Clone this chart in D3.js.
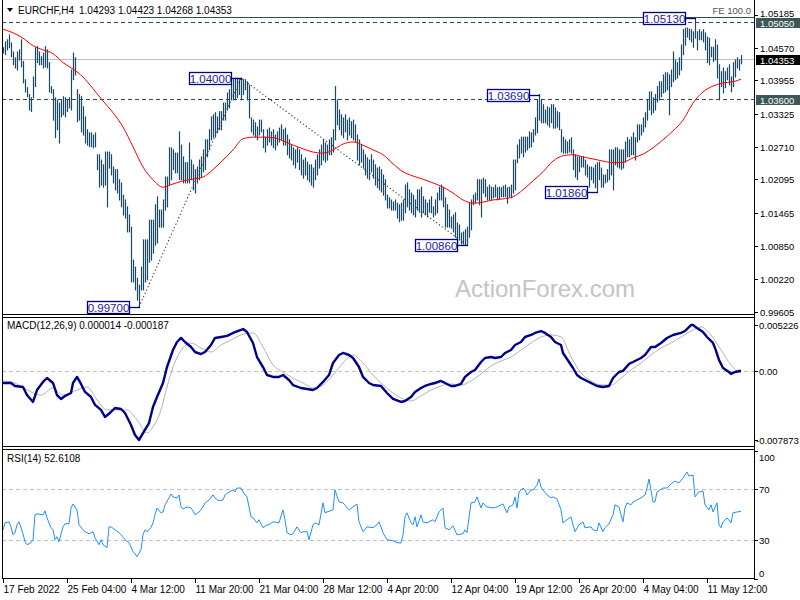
<!DOCTYPE html>
<html><head><meta charset="utf-8">
<script src="https://cdn.jsdelivr.net/npm/d3@7/dist/d3.min.js"></script>
<style>html,body{margin:0;padding:0;background:#fff;} svg{display:block;font-family:"Liberation Sans",Arial,sans-serif;}</style>
</head><body><div id="chart"></div>
<script>
// ---------------- DATA ----------------
const symbolTitle = "EURCHF,H4";
const ohlcTitle = "1.04293 1.04423 1.04268 1.04353";
const macdTitle = "MACD(12,26,9) 0.000014 -0.000187";
const rsiTitle = "RSI(14) 52.6108";
const watermark = "ActionForex.com";

// H4 bar highs / lows (bar 0 = 17 Feb 2022)
const barHigh = [
1.0457,1.0468,1.0472,1.0481,1.0466,1.0449,1.0438,1.0449,1.0453,1.0472,
1.0431,1.0397,1.0382,1.0369,1.0363,1.0402,1.0457,1.0459,1.0449,1.0440,
1.0447,1.0459,1.0453,1.0429,1.0384,1.0378,1.0363,1.0359,1.0353,1.0359,
1.0365,1.0363,1.0359,1.0363,1.0415,1.0447,1.0438,1.0378,1.0369,1.0365,
1.0346,1.0327,1.0303,1.0297,1.0297,1.0293,1.0297,1.0256,1.0256,1.0246,
1.0237,1.0261,1.0261,1.0261,1.0256,1.0233,1.0228,1.0228,1.0209,1.0203,
1.0180,1.0171,1.0158,1.0143,1.0120,1.0058,1.0045,1.0024,1.0011,1.0045,
1.0096,1.0096,1.0096,1.0133,1.0133,1.0133,1.0162,1.0177,1.0152,1.0152,
1.0171,1.0214,1.0214,1.0269,1.0269,1.0265,1.0259,1.0259,1.0299,1.0274,
1.0252,1.0241,1.0241,1.0278,1.0246,1.0237,1.0228,1.0233,1.0246,1.0252,
1.0265,1.0284,1.0284,1.0303,1.0327,1.0331,1.0335,1.0327,1.0337,1.0337,
1.0353,1.0353,1.0372,1.0378,1.0387,1.0397,1.0400,1.0400,1.0397,1.0400,
1.0397,1.0397,1.0393,1.0387,1.0325,1.0321,1.0316,1.0308,1.0321,1.0321,
1.0303,1.0289,1.0303,1.0306,1.0299,1.0303,1.0293,1.0299,1.0306,1.0312,
1.0303,1.0306,1.0293,1.0284,1.0274,1.0269,1.0265,1.0269,1.0265,1.0256,
1.0246,1.0250,1.0242,1.0237,1.0237,1.0231,1.0246,1.0256,1.0265,1.0274,
1.0284,1.0278,1.0274,1.0284,1.0288,1.0303,1.0384,1.0359,1.0340,1.0331,
1.0325,1.0331,1.0321,1.0325,1.0318,1.0321,1.0312,1.0293,1.0284,1.0274,
1.0265,1.0256,1.0250,1.0246,1.0256,1.0246,1.0237,1.0231,1.0233,1.0228,
1.0218,1.0209,1.0180,1.0175,1.0171,1.0167,1.0171,1.0165,1.0162,1.0165,
1.0171,1.0199,1.0203,1.0190,1.0184,1.0180,1.0171,1.0190,1.0190,1.0195,
1.0177,1.0171,1.0165,1.0171,1.0177,1.0158,1.0171,1.0184,1.0195,1.0199,
1.0195,1.0175,1.0162,1.0152,1.0139,1.0143,1.0147,1.0128,1.0124,1.0109,
1.0111,1.0115,1.0120,1.0165,1.0171,1.0180,1.0184,1.0209,1.0209,1.0209,
1.0212,1.0209,1.0195,1.0199,1.0195,1.0194,1.0199,1.0194,1.0195,1.0194,
1.0197,1.0199,1.0194,1.0195,1.0199,1.0246,1.0246,1.0274,1.0284,1.0289,
1.0289,1.0289,1.0289,1.0299,1.0297,1.0303,1.0325,1.0359,1.0369,1.0359,
1.0350,1.0340,1.0346,1.0344,1.0350,1.0350,1.0344,1.0337,1.0335,1.0303,
1.0289,1.0284,1.0280,1.0284,1.0288,1.0265,1.0256,1.0252,1.0252,1.0252,
1.0252,1.0246,1.0237,1.0233,1.0233,1.0231,1.0237,1.0241,1.0242,1.0231,
1.0218,1.0218,1.0228,1.0265,1.0265,1.0265,1.0269,1.0269,1.0265,1.0265,
1.0265,1.0280,1.0288,1.0284,1.0289,1.0297,1.0288,1.0312,1.0312,1.0312,
1.0325,1.0335,1.0359,1.0374,1.0374,1.0363,1.0369,1.0384,1.0393,1.0393,
1.0406,1.0410,1.0410,1.0406,1.0415,1.0449,1.0434,1.0429,1.0438,1.0462,
1.0491,1.0494,1.0494,1.0492,1.0491,1.0487,1.0513,1.0487,1.0491,1.0487,
1.0491,1.0485,1.0477,1.0475,1.0458,1.0458,1.0472,1.0462,1.0425,1.0412,
1.0419,1.0412,1.0419,1.0425,1.0402,1.0429,1.0434,1.0438,1.0434,1.04423];
const barLow = [
1.0447,1.0444,1.0453,1.0457,1.0440,1.0425,1.0419,1.0415,1.0434,1.0421,
1.0391,1.0374,1.0365,1.0340,1.0337,1.0363,1.0384,1.0429,1.0425,1.0425,
1.0419,1.0421,1.0419,1.0374,1.0372,1.0321,1.0288,1.0303,1.0278,1.0327,
1.0331,1.0327,1.0337,1.0344,1.0340,1.0397,1.0406,1.0318,1.0321,1.0299,
1.0293,1.0278,1.0274,1.0271,1.0271,1.0269,1.0271,1.0228,1.0195,1.0199,
1.0195,1.0199,1.0158,1.0231,1.0218,1.0203,1.0190,1.0184,1.0171,1.0158,
1.0143,1.0137,1.0111,1.0111,1.0017,1.0017,1.0002,0.9983,0.9970,1.0002,
1.0002,1.0017,1.0021,1.0054,1.0058,1.0071,1.0086,1.0090,1.0120,1.0120,
1.0120,1.0152,1.0158,1.0199,1.0209,1.0228,1.0222,1.0222,1.0209,1.0209,
1.0203,1.0203,1.0203,1.0203,1.0209,1.0190,1.0184,1.0203,1.0209,1.0214,
1.0224,1.0228,1.0252,1.0265,1.0284,1.0289,1.0289,1.0297,1.0303,1.0303,
1.0321,1.0321,1.0340,1.0344,1.0359,1.0359,1.0359,1.0363,1.0369,1.0359,
1.0369,1.0378,1.0359,1.0325,1.0299,1.0293,1.0289,1.0284,1.0293,1.0299,
1.0269,1.0261,1.0274,1.0280,1.0274,1.0269,1.0265,1.0274,1.0280,1.0284,
1.0274,1.0274,1.0256,1.0250,1.0246,1.0237,1.0231,1.0242,1.0228,1.0218,
1.0212,1.0218,1.0209,1.0205,1.0199,1.0195,1.0209,1.0218,1.0231,1.0237,
1.0246,1.0242,1.0246,1.0256,1.0256,1.0261,1.0284,1.0312,1.0303,1.0293,
1.0288,1.0299,1.0284,1.0293,1.0288,1.0284,1.0280,1.0246,1.0237,1.0242,
1.0231,1.0218,1.0212,1.0209,1.0224,1.0212,1.0199,1.0194,1.0190,1.0186,
1.0180,1.0171,1.0156,1.0156,1.0152,1.0152,1.0152,1.0137,1.0130,1.0133,
1.0133,1.0147,1.0158,1.0152,1.0147,1.0143,1.0139,1.0152,1.0148,1.0139,
1.0147,1.0143,1.0139,1.0148,1.0147,1.0139,1.0143,1.0147,1.0171,1.0171,
1.0158,1.0120,1.0120,1.0120,1.0118,1.0111,1.0101,1.0090,1.0096,1.0088,
1.0088,1.0086,1.0086,1.0101,1.0115,1.0162,1.0165,1.0171,1.0162,1.0139,
1.0184,1.0177,1.0171,1.0171,1.0171,1.0175,1.0177,1.0171,1.0173,1.0177,
1.0177,1.0177,1.0165,1.0177,1.0175,1.0184,1.0190,1.0241,1.0250,1.0259,
1.0252,1.0261,1.0265,1.0269,1.0271,1.0280,1.0293,1.0297,1.0321,1.0316,
1.0316,1.0316,1.0312,1.0308,1.0316,1.0306,1.0306,1.0308,1.0303,1.0261,
1.0259,1.0259,1.0259,1.0261,1.0259,1.0228,1.0214,1.0209,1.0224,1.0233,
1.0233,1.0218,1.0214,1.0195,1.0209,1.0203,1.0194,1.0186,1.0209,1.0195,
1.0195,1.0203,1.0205,1.0209,1.0218,1.0190,1.0237,1.0233,1.0231,1.0228,
1.0231,1.0242,1.0252,1.0252,1.0256,1.0256,1.0246,1.0280,1.0284,1.0293,
1.0299,1.0308,1.0321,1.0340,1.0331,1.0335,1.0340,1.0355,1.0359,1.0365,
1.0372,1.0374,1.0378,1.0331,1.0384,1.0393,1.0397,1.0400,1.0406,1.0415,
1.0444,1.0462,1.0477,1.0472,1.0468,1.0458,1.0475,1.0453,1.0472,1.0472,
1.0468,1.0453,1.0429,1.0425,1.0440,1.0431,1.0434,1.0400,1.0359,1.0384,
1.0372,1.0382,1.0397,1.0387,1.0374,1.0384,1.0402,1.0419,1.0415,1.04268];

// moving average [bar, price]
const maPoints = [[0,1.0492],[5,1.0485],[10,1.0475],[15,1.0461],[20,1.0453],[25,1.0446],[30,1.0429],[35,1.0417],[40,1.0402],[45,1.0380],[50,1.0357],[55,1.0335],[60,1.0308],[65,1.0271],[70,1.0233],[75,1.0209],[80,1.0195],[85,1.0201],[90,1.0207],[95,1.0210],[100,1.0214],[105,1.0228],[110,1.0246],[115,1.0265],[120,1.0286],[125,1.0289],[130,1.0289],[135,1.0288],[140,1.0282],[145,1.0274],[150,1.0267],[155,1.0261],[160,1.0259],[165,1.0265],[170,1.0276],[175,1.0280],[180,1.0274],[185,1.0265],[190,1.0256],[195,1.0239],[200,1.0224],[205,1.0216],[210,1.0210],[215,1.0203],[220,1.0195],[225,1.0184],[230,1.0171],[235,1.0165],[240,1.0167],[245,1.0171],[250,1.0173],[255,1.0177],[260,1.0190],[265,1.0207],[270,1.0224],[275,1.0244],[280,1.0254],[285,1.0256],[290,1.0252],[295,1.0248],[300,1.0244],[305,1.0241],[310,1.0242],[315,1.0250],[320,1.0257],[325,1.0269],[330,1.0284],[335,1.0301],[340,1.0321],[345,1.0353],[350,1.0374],[355,1.0385],[360,1.0391],[365,1.0393],[369,1.0398]];

// MACD main line [bar, value]
const macdPoints = [[0,-0.00138],[4,-0.00138],[6,-0.00172],[10,-0.00183],[12,-0.00275],[15,-0.00354],[17,-0.00218],[20,-0.00126],[22,-0.00081],[25,-0.00138],
[27,-0.00275],[29,-0.00320],[31,-0.00286],[34,-0.00252],[35,-0.00138],[37,-0.00069],[39,-0.00149],[41,-0.00240],[44,-0.00297],[46,-0.00388],
[49,-0.00445],[51,-0.00525],[54,-0.00468],[56,-0.00423],[59,-0.00434],[61,-0.00480],[64,-0.00616],[66,-0.00730],[68,-0.00787],[70,-0.00708],
[73,-0.00594],[75,-0.00411],[77,-0.00297],[80,-0.00138],[82,0.00044],[85,0.00238],[87,0.00329],[89,0.00375],[91,0.00329],[94,0.00272],
[96,0.00215],[99,0.00192],[101,0.00215],[104,0.00295],[106,0.00375],[109,0.00386],[112,0.00398],[115,0.00432],[119,0.00466],[120,0.00477],
[122,0.00443],[125,0.00318],[127,0.00158],[130,0.00044],[132,-0.00047],[135,-0.00069],[138,-0.00069],[140,-0.00047],[143,-0.00104],[145,-0.00161],
[149,-0.00195],[152,-0.00206],[155,-0.00218],[157,-0.00195],[160,-0.00126],[163,-0.00047],[165,0.00090],[168,0.00181],[170,0.00204],[173,0.00181],
[175,0.00147],[178,0.00044],[180,-0.00069],[183,-0.00138],[185,-0.00161],[189,-0.00172],[192,-0.00252],[195,-0.00320],[199,-0.00354],[201,-0.00343],
[204,-0.00297],[206,-0.00240],[209,-0.00195],[211,-0.00172],[214,-0.00149],[216,-0.00138],[219,-0.00115],[221,-0.00138],[224,-0.00172],[226,-0.00172],
[229,-0.00149],[231,-0.00069],[234,-0.00013],[236,0.00010],[239,0.00101],[241,0.00147],[244,0.00158],[246,0.00147],[249,0.00158],[251,0.00204],
[254,0.00238],[256,0.00295],[259,0.00329],[261,0.00386],[264,0.00409],[266,0.00432],[269,0.00454],[271,0.00432],[274,0.00386],[276,0.00329],
[279,0.00295],[280,0.00204],[283,0.00101],[285,0.00033],[287,-0.00047],[289,-0.00081],[291,-0.00104],[294,-0.00138],[297,-0.00172],[300,-0.00183],
[303,-0.00172],[305,-0.00081],[308,-0.00013],[310,0.00000],[313,0.00079],[315,0.00101],[319,0.00147],[321,0.00181],[324,0.00272],[326,0.00272],
[329,0.00318],[332,0.00375],[335,0.00409],[339,0.00432],[341,0.00454],[344,0.00522],[345,0.00522],[347,0.00489],[350,0.00443],[352,0.00386],
[355,0.00318],[356,0.00261],[358,0.00124],[360,0.00033],[363,-0.00013],[364,-0.00035],[366,-0.00013],[369,0.000014]];

// MACD signal line [bar, value]
const signalPoints = [[0,-0.00115],[4,-0.00126],[9,-0.00172],[14,-0.00240],[19,-0.00275],[25,-0.00195],[30,-0.00275],[37,-0.00218],[42,-0.00183],[47,-0.00332],
[52,-0.00445],[57,-0.00445],[62,-0.00445],[67,-0.00559],[72,-0.00708],[75,-0.00639],[79,-0.00445],[82,-0.00183],[85,0.00044],[90,0.00261],
[94,0.00318],[99,0.00261],[104,0.00215],[109,0.00295],[114,0.00352],[119,0.00409],[125,0.00432],[130,0.00272],[135,0.00067],[140,-0.00013],
[145,-0.00081],[150,-0.00138],[155,-0.00195],[160,-0.00161],[165,-0.00047],[170,0.00090],[175,0.00181],[180,0.00090],[185,-0.00047],[190,-0.00161],
[195,-0.00252],[199,-0.00309],[204,-0.00343],[209,-0.00286],[214,-0.00218],[219,-0.00172],[224,-0.00149],[229,-0.00161],[234,-0.00115],[239,-0.00035],
[244,0.00056],[249,0.00113],[254,0.00158],[259,0.00238],[264,0.00318],[269,0.00386],[274,0.00409],[279,0.00386],[284,0.00158],[289,-0.00024],
[294,-0.00115],[299,-0.00161],[304,-0.00161],[309,-0.00081],[314,0.00010],[319,0.00090],[324,0.00181],[329,0.00261],[334,0.00318],[339,0.00386],
[344,0.00454],[349,0.00500],[354,0.00409],[359,0.00238],[364,0.00067],[367,0.00000],[369,-0.000187]];

// RSI(14) [bar, value]
const rsiPoints = [[0,38.3],[1,43.7],[3,44.5],[4,40.6],[5,34.4],[6,36.0],[7,42.2],[8,44.5],[10,35.2],[11,29.0],[12,26.7],[14,28.3],[15,30.6],[16,49.9],[17,50.7],[20,49.9],[21,53.0],[22,47.6],[24,39.9],[25,38.3],[26,30.6],[27,32.9],[28,29.0],[30,40.6],[31,43.0],[33,43.0],[34,55.3],[35,58.4],[37,53.8],[38,42.2],[40,38.3],[41,36.8],[43,35.2],[45,36.8],[46,32.1],[48,26.7],[49,30.6],[50,26.7],[52,24.4],[53,40.6],[54,40.6],[56,38.3],[58,36.0],[60,32.9],[61,30.6],[63,28.3],[65,21.3],[66,19.7],[67,17.4],[69,22.8],[70,34.4],[71,38.3],[72,36.8],[74,39.9],[75,43.7],[76,49.9],[77,55.3],[79,51.5],[80,52.2],[81,57.7],[83,63.1],[84,66.2],[85,63.9],[87,63.1],[88,65.4],[89,56.1],[90,54.6],[92,56.1],[94,55.3],[95,53.0],[96,49.9],[98,52.2],[100,56.1],[101,59.2],[103,61.5],[105,65.4],[106,63.1],[108,60.8],[110,61.5],[111,65.4],[113,67.7],[115,69.3],[116,67.7],[117,70.8],[119,70.8],[120,67.7],[122,63.9],[124,48.4],[125,47.6],[127,43.7],[128,46.1],[130,39.9],[132,42.2],[133,42.2],[135,44.5],[138,43.7],[140,53.8],[141,46.1],[142,36.0],[144,34.4],[145,35.2],[147,40.6],[149,36.0],[150,36.8],[152,36.8],[153,30.6],[155,42.2],[156,43.7],[158,42.2],[160,59.2],[161,51.5],[162,52.2],[165,53.8],[166,69.3],[168,60.0],[170,59.2],[173,53.8],[175,56.1],[177,58.4],[178,44.5],[180,36.8],[182,40.6],[185,39.9],[187,42.2],[188,44.5],[190,36.0],[192,30.6],[195,29.8],[197,28.3],[199,28.0],[200,34.4],[201,48.4],[202,51.5],[204,43.7],[205,42.2],[206,48.4],[207,40.6],[209,49.9],[210,44.5],[212,43.7],[215,46.1],[216,44.5],[218,52.2],[220,55.3],[221,39.9],[223,38.3],[225,41.4],[227,34.4],[230,35.2],[231,38.3],[232,36.0],[234,59.2],[236,60.0],[237,63.9],[239,55.3],[240,59.2],[242,56.1],[245,55.3],[247,56.1],[250,58.4],[252,51.5],[253,56.1],[255,57.7],[256,63.9],[257,55.3],[258,67.7],[260,70.8],[261,69.3],[262,65.4],[264,69.3],[265,69.3],[267,73.1],[268,77.8],[269,71.6],[270,69.3],[272,65.4],[274,63.1],[275,63.9],[277,62.3],[279,53.8],[280,43.7],[282,46.1],[284,48.4],[285,42.2],[286,36.8],[288,42.2],[290,44.5],[291,39.9],[294,40.6],[295,38.3],[297,37.5],[298,43.7],[300,36.8],[301,39.9],[303,43.0],[305,49.9],[306,57.7],[308,56.1],[309,49.9],[310,44.5],[311,55.3],[312,59.2],[314,57.7],[315,60.0],[317,61.5],[319,63.1],[321,65.4],[322,70.8],[323,77.8],[325,60.0],[326,60.0],[327,67.7],[330,70.8],[332,70.8],[334,73.9],[336,76.2],[338,74.7],[340,78.6],[342,83.2],[343,80.1],[345,80.9],[346,63.9],[348,67.7],[350,68.5],[351,57.7],[353,53.8],[354,57.7],[355,52.2],[357,59.2],[358,42.2],[359,39.9],[360,44.5],[362,47.6],[364,43.7],[365,51.5],[367,52.2],[369,52.61]];

// axes
const priceTicks = ["1.05185","1.04570","1.03955","1.03325","1.02710","1.02095","1.01465","1.00850","1.00220","0.99605"];
const macdTicks = ["0.005226","0.00","-0.007873"];
const rsiTicks = [100,70,30,0];
const rsiLevels = [70,30];
const timeTickBars = [0,32,64,96,128,160,192,224,256,288,320,352];
const timeTickLabels = ["17 Feb 2022","25 Feb 04:00","4 Mar 12:00","11 Mar 20:00","21 Mar 04:00","28 Mar 12:00","4 Apr 20:00","12 Apr 04:00","19 Apr 12:00","26 Apr 20:00","4 May 04:00","11 May 12:00"];

// horizontal levels & annotations
const dashedLevels = [1.05050, 1.03600];
const lastPrice = 1.04353;
const feLevel = 1.05150, feStartBar = 67, feLabel = "FE 100.0";
const swingBars = [68,119,232,268,297,346];
const swingPrices = [0.99700,1.04000,1.00860,1.03690,1.01860,1.05130];
const zigzagBars = [68,119,232];
const zigzagPrices = [0.99700,1.04000,1.00860];

// ---------------- DRAW ----------------
const W = 800, H = 600, L = 2, R = 754;
const svg = d3.select('#chart').append('svg').attr('width', W).attr('height', H);
svg.append('rect').attr('width', W).attr('height', H).attr('fill', '#fff');

const nBars = barHigh.length;
const x = d3.scaleLinear().domain([0, nBars - 1]).range([3, 741]);
const yP = d3.scaleLinear().domain([0.99605, 1.05185]).range([312, 15]);
const yM = d3.scaleLinear().domain([-0.007873, 0.005226]).range([440, 325]);
const yR = d3.scaleLinear().domain([0, 100]).range([579, 450.5]);

const defs = svg.append('defs');
function clip(id, y0, y1) {
  defs.append('clipPath').attr('id', id).append('rect').attr('x', L + 1).attr('y', y0).attr('width', R - L - 1).attr('height', y1 - y0);
}
clip('cMain', 0, 314); clip('cMacd', 318, 446); clip('cRsi', 450, 578);
const gMain = svg.append('g').attr('clip-path', 'url(#cMain)');
const gMacd = svg.append('g').attr('clip-path', 'url(#cMacd)');
const gRsi = svg.append('g').attr('clip-path', 'url(#cRsi)');

// watermark
svg.append('text').attr('x', 545).attr('y', 297).attr('text-anchor', 'middle')
  .attr('font-size', 24).attr('fill', '#c4c4c4').text(watermark);

// level lines in main panel
gMain.selectAll('line.lvl').data(dashedLevels).join('line').attr('class', 'lvl')
  .attr('x1', L).attr('x2', R).attr('y1', d => Math.round(yP(d)) + 0.5).attr('y2', d => Math.round(yP(d)) + 0.5)
  .attr('stroke', '#2f4f4f').attr('stroke-dasharray', '4,3').attr('stroke-width', 1);
gMain.append('line').attr('x1', L).attr('x2', R)
  .attr('y1', Math.round(yP(lastPrice)) + 0.5).attr('y2', Math.round(yP(lastPrice)) + 0.5)
  .attr('stroke', '#c0c0c0').attr('stroke-width', 1);
gMain.append('line').attr('x1', x(feStartBar)).attr('x2', R)
  .attr('y1', Math.round(yP(feLevel)) + 0.5).attr('y2', Math.round(yP(feLevel)) + 0.5)
  .attr('stroke', '#2f4f4f').attr('stroke-width', 1);

// zigzag dotted
gMain.append('path').datum(zigzagBars.map((b, k) => [b, zigzagPrices[k]]))
  .attr('d', d3.line().x(d => x(d[0])).y(d => yP(d[1])))
  .attr('fill', 'none').attr('stroke', '#333').attr('stroke-width', 1.1).attr('stroke-dasharray', '1.2,2.4');

// bars
gMain.selectAll('line.bar').data(d3.range(nBars)).join('line').attr('class', 'bar')
  .attr('x1', i => Math.round(x(i)) + 0.5).attr('x2', i => Math.round(x(i)) + 0.5)
  .attr('y1', i => yP(barHigh[i]) - 0.5).attr('y2', i => yP(barLow[i]) + 0.5)
  .attr('stroke', '#1b4963').attr('stroke-width', 1.2);

// MA
gMain.append('path').datum(maPoints)
  .attr('d', d3.line().x(d => x(d[0])).y(d => yP(d[1])).curve(d3.curveMonotoneX))
  .attr('fill', 'none').attr('stroke', '#ff0000').attr('stroke-width', 1);

// swing annotations
swingBars.forEach((b, k) => {
  const p = swingPrices[k];
  const yy = Math.round(yP(p)) + 0.5;
  const xr = Math.round(x(b)) - 10;
  const bw = 42, bh = 12;
  gMain.append('line').attr('x1', xr).attr('x2', Math.round(x(b)) + 1).attr('y1', yy).attr('y2', yy)
    .attr('stroke', '#000080').attr('stroke-width', 1.3);
  gMain.append('rect').attr('x', xr - bw + 0.5).attr('y', yy - bh / 2).attr('width', bw).attr('height', bh)
    .attr('fill', '#fff').attr('stroke', '#000080').attr('stroke-width', 1.3);
  gMain.append('text').attr('x', xr - bw / 2 + 0.5).attr('y', yy + 4.5).attr('text-anchor', 'middle')
    .attr('font-size', 11.5).attr('fill', '#1c1ca0').text(p.toFixed(5));
});

// MACD panel
gMacd.append('line').attr('x1', L).attr('x2', R).attr('y1', Math.round(yM(0)) + 0.5).attr('y2', Math.round(yM(0)) + 0.5)
  .attr('stroke', '#c0c0c0').attr('stroke-dasharray', '4,3');
gMacd.append('path').datum(signalPoints)
  .attr('d', d3.line().x(d => x(d[0])).y(d => yM(d[1])).curve(d3.curveMonotoneX))
  .attr('fill', 'none').attr('stroke', '#b4b4b4').attr('stroke-width', 1);
gMacd.append('path').datum(macdPoints)
  .attr('d', d3.line().x(d => x(d[0])).y(d => yM(d[1])))
  .attr('fill', 'none').attr('stroke', '#00008b').attr('stroke-width', 2.4).attr('stroke-linejoin', 'round');

// RSI panel
gRsi.selectAll('line.rl').data(rsiLevels).join('line').attr('class', 'rl')
  .attr('x1', L).attr('x2', R).attr('y1', d => Math.round(yR(d)) + 0.5).attr('y2', d => Math.round(yR(d)) + 0.5)
  .attr('stroke', '#c0c0c0').attr('stroke-dasharray', '4,3');
gRsi.append('path').datum(rsiPoints)
  .attr('d', d3.line().x(d => x(d[0])).y(d => yR(d[1])))
  .attr('fill', 'none').attr('stroke', '#1e90ff').attr('stroke-width', 1);

// frames
const frame = svg.append('g').attr('stroke', '#000').attr('stroke-width', 1);
frame.append('line').attr('x1', L + 0.5).attr('x2', L + 0.5).attr('y1', 0).attr('y2', 579);
frame.append('line').attr('x1', R + 0.5).attr('x2', R + 0.5).attr('y1', 0).attr('y2', 579);
[314.5, 317.5, 446.5, 449.5, 578.5].forEach(yy => frame.append('line').attr('x1', L).attr('x2', R + 1).attr('y1', yy).attr('y2', yy));

// right axis: price
const axG = svg.append('g').attr('font-size', 9.5).attr('fill', '#000');
priceTicks.forEach((t, k) => {
  const yy = Math.round(yP(+t)) + 0.5;
  axG.append('line').attr('x1', R).attr('x2', R + 4).attr('y1', yy).attr('y2', yy).attr('stroke', '#000');
  axG.append('text').attr('x', 760).attr('y', k === 0 ? yy + 1 : yy + 3.5).text(t);
});
// price boxes
function priceBox(p, fill) {
  const yy = Math.round(yP(p));
  axG.append('rect').attr('x', 756).attr('y', yy - 4).attr('width', 44).attr('height', 10).attr('fill', fill);
  axG.append('text').attr('x', 760).attr('y', yy + 4.5).attr('fill', '#fff').text(p.toFixed(5));
}
dashedLevels.forEach(p => priceBox(p, '#3b5757'));
priceBox(lastPrice, '#000');
axG.append('text').attr('x', 751).attr('y', 14).attr('text-anchor', 'end').attr('fill', '#555').text(feLabel);

// right axis: MACD
macdTicks.forEach(t => {
  const v = +t;
  const yy = Math.round(yM(v)) + 0.5;
  axG.append('line').attr('x1', R).attr('x2', R + 4).attr('y1', yy).attr('y2', yy).attr('stroke', '#000');
  axG.append('text').attr('x', t.startsWith('-') ? 756 : 759).attr('y', yy + 3.5).text(t);
});
// right axis: RSI
rsiTicks.forEach(t => {
  const yy = Math.round(yR(t)) + 0.5;
  axG.append('line').attr('x1', R).attr('x2', R + 4).attr('y1', yy).attr('y2', yy).attr('stroke', '#000');
  const ty = Math.min(Math.max(yy, 457), 573);
  axG.append('text').attr('x', 759).attr('y', ty + 3.5).text(t);
});

// bottom time axis
timeTickBars.forEach((b, k) => {
  const xx = Math.round(x(b)) + 0.5;
  axG.append('line').attr('x1', xx).attr('x2', xx).attr('y1', 579).attr('y2', 583).attr('stroke', '#000');
  axG.append('text').attr('x', xx).attr('y', 593).attr('font-size', 10).text(timeTickLabels[k]);
});

// titles
svg.append('path').attr('d', 'M7,8 L13,8 L10,12 Z').attr('fill', '#000');
svg.append('text').attr('x', 18).attr('y', 14).attr('font-size', 10).attr('fill', '#000').text(symbolTitle);
svg.append('text').attr('x', 79).attr('y', 14).attr('font-size', 10).attr('fill', '#000').text(ohlcTitle);
svg.append('text').attr('x', 7).attr('y', 329).attr('font-size', 10).attr('fill', '#000').text(macdTitle);
svg.append('text').attr('x', 7).attr('y', 462).attr('font-size', 10).attr('fill', '#000').text(rsiTitle);
</script></body></html>
